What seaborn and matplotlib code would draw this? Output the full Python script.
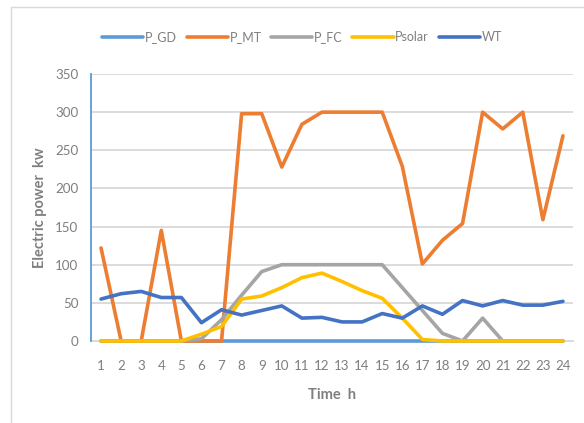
import numpy as np
import pandas as pd
import matplotlib
matplotlib.use("Agg")
import matplotlib.pyplot as plt
import seaborn as sns
from matplotlib.patches import Rectangle

hours = list(range(1, 25))
series_names = ["P_GD", "P_MT", "P_FC", "Psolar", "WT"]

p_gd = [0] * 24
p_mt = [122, 0, 0, 145, 0, 0, 0, 298, 298, 228, 284, 300,
        300, 300, 300, 229, 101, 132, 154, 300, 278, 300, 159, 269]
p_fc = [0, 0, 0, 0, 0, 3, 28, 60, 91, 100, 100, 100,
        100, 100, 100, 70, 40, 10, 0, 30, 0, 0, 0, 0]
p_solar = [0, 0, 0, 0, 0, 9, 19, 55, 59, 70, 83, 89,
           78, 66, 56, 30, 2, 0, 0, 0, 0, 0, 0, 0]
wt = [55, 62, 65, 57, 57, 24, 41, 34, 40, 46, 30, 31,
      25, 25, 36, 30, 46, 35, 53, 46, 53, 47, 47, 52]

colors = ["#5B9BD5", "#ED7D31", "#A5A5A5", "#FFC000", "#4472C4"]
y_ticks = [0, 50, 100, 150, 200, 250, 300, 350]

df = pd.DataFrame({
    "hour": hours * 5,
    "power": p_gd + p_mt + p_fc + p_solar + wt,
    "series": [n for n in series_names for _ in hours],
})

sns.set_theme(style="white")
plt.rcParams["font.family"] = ["Lato", "DejaVu Sans"]

fig = plt.figure(figsize=(5.84, 4.23), dpi=100)
ax = fig.add_axes([91 / 584, 82 / 423, 482 / 584, 267 / 423])

sns.lineplot(data=df, x="hour", y="power", hue="series",
             hue_order=series_names, palette=colors,
             linewidth=2.6, ax=ax, legend=True)
for line in ax.lines:
    line.set_zorder(3)
    line.set_clip_on(False)

ax.set_xlim(0.5, 24.5)
ax.set_ylim(0, 350)
ax.set_xticks(hours)
ax.set_xticklabels([str(h) for h in hours])
ax.set_yticks(y_ticks)
ax.grid(axis="y", color="#D9D9D9", linewidth=1.3)
ax.set_axisbelow(True)

for side in ["top", "right"]:
    ax.spines[side].set_visible(False)
ax.spines["bottom"].set_color("#D9D9D9")
ax.spines["bottom"].set_linewidth(1.3)
ax.spines["bottom"].set_zorder(1)
ax.spines["left"].set_color("#5B9BD5")
ax.spines["left"].set_linewidth(1.3)

ax.tick_params(axis="both", length=0, labelsize=9.6, colors="#7F7F7F")
ax.tick_params(axis="x", pad=14)
ax.tick_params(axis="y", pad=9)

ax.set_xlabel("Time  h", fontsize=10.5, fontweight="bold", color="#7F7F7F",
              labelpad=11)
ax.set_ylabel("Electric power  kw", fontsize=10.5, fontweight="bold",
              color="#7F7F7F", labelpad=6)

handles, labels = ax.get_legend_handles_labels()
ax.get_legend().remove()
fig.legend(handles, labels, loc="center", bbox_to_anchor=(302 / 584, 1 - 37 / 423),
           ncol=5, frameon=False, fontsize=9.0, handlelength=3.3,
           handletextpad=0.15, columnspacing=0.75, labelcolor="#7F7F7F")

# chart area border
fig.patches.append(Rectangle((11 / 584, -0.05), 1.2, 1 - 7 / 423 + 0.05,
                             transform=fig.transFigure, fill=False,
                             edgecolor="#D9D9D9", linewidth=1.0))

fig.savefig("out.png", dpi=100, facecolor="white")
